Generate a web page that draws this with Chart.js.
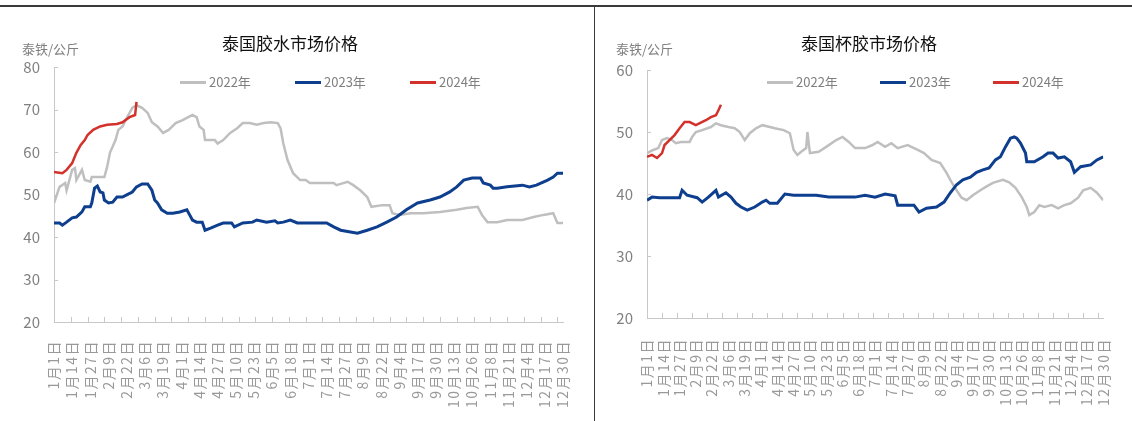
<!DOCTYPE html>
<html>
<head>
<meta charset="utf-8">
<script src="https://cdn.jsdelivr.net/npm/chart.js@4"></script>
<style>
  html, body { margin: 0; padding: 0; background: #fff; }
  body { width: 1132px; height: 421px; position: relative; overflow: hidden; font-family: 'Noto Sans CJK SC', 'Noto Sans', sans-serif; }
  .box { position: absolute; top: 0; height: 421px; }
  .topline { position: absolute; left: 0; top: 5px; width: 1132px; height: 2px; background: #3a3a3a; }
  .vline { position: absolute; left: 594px; top: 6px; width: 1px; height: 415px; background: #3a3a3a; }
  .title { position: absolute; top: 30px; font-size: 17px; color: #111; white-space: nowrap; }
  .unit { position: absolute; top: 39px; font-size: 13px; color: #7f7f7f; white-space: nowrap; }
  .leg { position: absolute; top: 72px; font-size: 13px; color: #7f7f7f; white-space: nowrap; }
  .leg i { display: inline-block; width: 26px; height: 2.5px; vertical-align: middle; margin-right: 3px; position: relative; top: -1px; }
</style>
</head>
<body>
<div class="topline"></div>
<div class="vline"></div>

<div class="box" style="left:0;width:594px"><canvas id="glueChart"></canvas></div>
<div class="box" style="left:595px;width:537px"><canvas id="cupChart"></canvas></div>

<div class="title" style="left:222px">泰国胶水市场价格</div>
<div class="unit" style="left:22px">泰铁/公斤</div>
<div class="leg" style="left:180px"><i style="background:#bfbfbf"></i>2022年</div>
<div class="leg" style="left:295px"><i style="background:#0e3e8e"></i>2023年</div>
<div class="leg" style="left:410px"><i style="background:#d3312b"></i>2024年</div>

<div class="title" style="left:801px">泰国杯胶市场价格</div>
<div class="unit" style="left:616px">泰铁/公斤</div>
<div class="leg" style="left:767px"><i style="background:#bfbfbf"></i>2022年</div>
<div class="leg" style="left:880px"><i style="background:#0e3e8e"></i>2023年</div>
<div class="leg" style="left:993px"><i style="background:#d3312b"></i>2024年</div>

<script>
// x axis tick labels, one every 13 days
const tickLabels = ['1月1日', '1月14日', '1月27日', '2月9日', '2月22日', '3月6日', '3月19日', '4月1日',
    '4月14日', '4月27日', '5月10日', '5月23日', '6月5日', '6月18日', '7月1日', '7月14日', '7月27日',
    '8月9日', '8月22日', '9月4日', '9月17日', '9月30日', '10月13日', '10月26日', '11月8日', '11月21日',
    '12月4日', '12月17日', '12月30日'];

// 泰国胶水 (day of year -> price)
const glueDays2022 = [0,4,8,9,13,15,16,20,22,26,27,36,38,40,44,46,49,52,56,59,63,67,70,74,78,82,87,92,96,99,102,104,107,108,112,115,117,121,126,131,135,140,145,150,155,160,162,164,167,171,176,180,183,200,202,210,214,219,224,227,235,240,242,247,255,264,276,288,295,303,306,310,317,324,335,343,350,357,360,364];
const glue2022 = [48,51.8,52.7,51,55.8,56.2,53.4,55.8,53.4,53,54.1,54.1,56.5,59.8,62.8,65.2,66,68,70.4,71,70.4,69.2,67,66,64.5,65.2,66.8,67.5,68.2,68.7,68.2,66,65.2,62.8,62.8,62.8,62,62.8,64.5,65.6,66.8,66.8,66.4,66.8,67,66.8,65.6,62,58.1,55,53.4,53.4,52.7,52.7,52.2,53,52.2,51,49.4,47.1,47.5,47.5,45.6,45.2,45.6,45.6,45.9,46.4,46.8,47.1,45.2,43.5,43.5,44,44,44.7,45.2,45.6,43.3,43.3];
const glueDays2023 = [0,4,6,9,13,16,20,22,26,27,29,31,33,35,36,39,42,45,49,52,56,59,63,67,70,72,74,77,81,85,90,95,97,99,102,106,108,112,117,121,127,129,135,142,145,152,158,160,164,169,174,183,195,200,205,212,217,224,231,238,245,252,260,269,276,283,288,293,299,305,307,312,314,317,324,335,340,345,353,357,360,364];
const glue2023 = [43.3,43.3,42.8,43.5,44.5,44.7,45.9,47.1,47.1,48,51.5,52,50.6,50.4,48.7,48,48.2,49.4,49.4,49.9,50.6,51.8,52.5,52.5,51,48.7,48,46.4,45.6,45.6,45.9,46.4,45.2,44,43.5,43.5,41.6,42.1,42.8,43.3,43.3,42.4,43.3,43.5,44,43.5,43.8,43.3,43.5,44,43.3,43.3,43.3,42.4,41.6,41.2,40.9,41.6,42.4,43.5,44.7,46.4,48,48.7,49.4,50.6,51.8,53.4,53.9,53.9,52.7,52.2,51.5,51.5,51.8,52.2,51.8,52.2,53.4,54.1,55,55];
const glueDays2024 = [0,6,9,13,16,19,22,24,28,33,38,45,49,54,58,59];
const glue2024 = [55.3,55,55.8,57.4,59.8,61.6,62.8,64,65.2,66,66.4,66.6,67,68.2,68.7,71.8];

// 泰国杯胶
const cupDays2022 = [0,5,9,12,16,20,23,27,34,36,39,44,51,55,59,65,70,74,78,82,87,92,98,102,109,114,117,120,123,127,128,130,137,143,151,156,161,166,174,180,184,190,195,200,208,216,221,227,234,239,243,247,251,255,260,266,270,276,284,289,294,299,303,305,309,313,317,323,328,333,338,344,348,354,359,364];
const cup2022 = [46.6,47.1,47.4,48.7,49,48.7,48.2,48.4,48.4,49.2,50,50.3,50.8,51.4,51.1,50.8,50.6,50,48.7,49.8,50.6,51.1,50.8,50.6,50.3,49.8,47.1,46.3,46.8,47.4,50,46.6,46.8,47.6,48.7,49.2,48.4,47.4,47.4,47.9,48.4,47.6,48.2,47.4,47.9,47.1,46.6,45.5,45,43.4,41.9,40.6,39.4,39,39.8,40.6,41.1,41.8,42.3,41.9,41,39.5,37.9,36.6,37.1,38.2,37.9,38.2,37.7,38.2,38.5,39.4,40.6,41,40.2,39];
const cupDays2023 = [0,4,10,18,26,28,32,40,44,49,55,57,63,67,71,75,80,86,92,95,98,104,108,110,117,125,135,145,156,166,174,182,190,198,200,208,213,217,223,231,237,242,247,252,258,263,268,273,278,282,286,290,293,295,298,302,303,309,316,320,324,328,333,338,341,346,354,359,364];
const cup2023 = [39,39.5,39.4,39.4,39.4,40.6,39.8,39.4,38.7,39.5,40.6,39.5,40.2,39.5,38.5,37.9,37.4,37.9,38.7,39,38.5,38.5,39.5,40,39.8,39.8,39.8,39.5,39.5,39.5,39.8,39.5,40,39.7,38.2,38.2,38.2,37.1,37.7,37.9,38.7,40.2,41.5,42.3,42.7,43.5,43.9,44.2,45.5,46,47.6,49,49.2,49,48.2,46.6,45.2,45.2,46,46.6,46.6,45.8,46,45.2,43.5,44.4,44.7,45.5,46];
const cupDays2024 = [0,4,8,12,14,18,22,26,30,34,39,43,47,51,55,57,59];
const cup2024 = [46,46.3,45.8,46.6,47.9,48.7,49.5,50.6,51.6,51.6,51.1,51.5,51.9,52.4,52.7,53.5,54.4];

Chart.defaults.font.family = "'Noto Sans CJK SC', 'Noto Sans', sans-serif";
Chart.defaults.color = '#808080';

const toPoints = (days, vals) => days.map((d, i) => ({ x: d, y: vals[i] }));

// small inward tick marks like the original
const tickMarks = {
    id: 'tickMarks',
    beforeDatasetsDraw(chart) {
        const { ctx, scales: { x, y } } = chart;
        ctx.save();
        ctx.strokeStyle = '#c8c8c8';
        ctx.lineWidth = 1;
        ctx.beginPath();
        for (let d = 0; d <= 364; d += 12) {
            const px = Math.round(x.getPixelForValue(d)) + 0.5;
            ctx.moveTo(px, y.bottom);
            ctx.lineTo(px, y.bottom - 5);
        }
        y.ticks.forEach(t => {
            const py = Math.round(y.getPixelForValue(t.value)) + 0.5;
            ctx.moveTo(y.right, py);
            ctx.lineTo(y.right + 4, py);
        });
        ctx.stroke();
        ctx.restore();
    }
};

function makeChart(id, s2022, s2023, s2024, yMax, pad, yWidth, xHeight, xPad) {
    const ctx = document.getElementById(id).getContext('2d');
    const chart = new Chart(ctx, {
        type: 'line',
        data: {
            datasets: [
                { label: '2022年', data: s2022, borderColor: '#bfbfbf', borderWidth: 2.5, order: 3 },
                { label: '2023年', data: s2023, borderColor: '#0e3e8e', borderWidth: 3, order: 2 },
                { label: '2024年', data: s2024, borderColor: '#d3312b', borderWidth: 2.5, order: 1 }
            ]
        },
        options: {
            responsive: true,
            maintainAspectRatio: false,
            animation: false,
            elements: { point: { radius: 0 }, line: { tension: 0, fill: false } },
            layout: { padding: pad },
            plugins: { legend: { display: false }, tooltip: { enabled: false } },
            scales: {
                x: {
                    type: 'linear',
                    min: 0,
                    max: 364,
                    grid: { display: false },
                    border: { display: true, color: '#c8c8c8', width: 1 },
                    ticks: {
                        stepSize: 13,
                        autoSkip: false,
                        maxRotation: 90,
                        minRotation: 90,
                        padding: xPad,
                        font: { size: 14 },
                        color: '#999999',
                        callback: v => tickLabels[Math.round(v / 13)]
                    },
                    afterFit: s => { s.height = xHeight; }
                },
                y: {
                    min: 20,
                    max: yMax,
                    grid: { display: false, drawTicks: false },
                    border: { display: true, color: '#c8c8c8', width: 1 },
                    ticks: { stepSize: 10, padding: 14, font: { size: 15 }, color: '#808080' },
                    afterFit: s => { s.width = yWidth; }
                }
            }
        },
        plugins: [tickMarks]
    });
    // spread the date labels a little, like the original
    const sx = chart.scales.x;
    const drawLabels = sx.drawLabels;
    sx.drawLabels = function (area) {
        this.ctx.letterSpacing = '1.5px';
        drawLabels.call(this, area);
        this.ctx.letterSpacing = '0px';
    };
    chart.draw();
    return chart;
}

makeChart('glueChart',
    toPoints(glueDays2022, glue2022), toPoints(glueDays2023, glue2023), toPoints(glueDays2024, glue2024),
    80, { top: 67, right: 31, bottom: 0, left: 0 }, 54, 99, 10);

makeChart('cupChart',
    toPoints(cupDays2022, cup2022), toPoints(cupDays2023, cup2023), toPoints(cupDays2024, cup2024),
    60, { top: 70, right: 19, bottom: 0, left: 0 }, 52, 103, 12);
</script>
</body>
</html>
